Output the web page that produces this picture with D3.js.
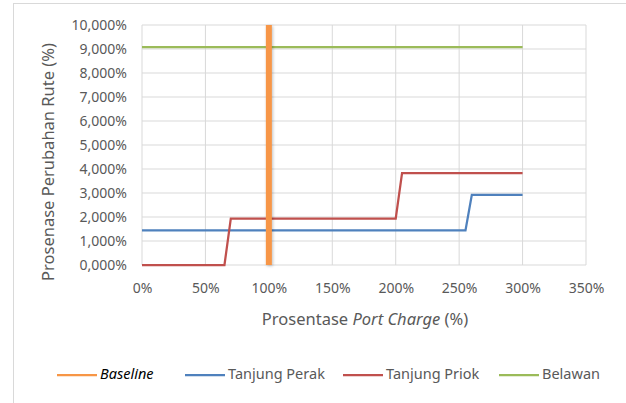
<!DOCTYPE html>
<html>
<head>
<meta charset="utf-8">
<script src="https://cdn.jsdelivr.net/npm/d3@7"></script>
<style>
  body { margin: 0; background: #fff; }
  text { font-family: "Noto Sans", sans-serif; }
</style>
</head>
<body>
<svg width="626" height="403"></svg>
<script>
// series (x = port charge %, y = route change %)
var xTicks = [0, 50, 100, 150, 200, 250, 300, 350];
var yTicks = [0, 1, 2, 3, 4, 5, 6, 7, 8, 9, 10];
var baseline = [[100, 0], [100, 10]];
var tanjungPerak = [[0, 1.44], [255, 1.44], [260, 2.92], [300, 2.92]];
var tanjungPriok = [[0, 0], [65, 0], [70, 1.93], [200, 1.93], [205, 3.83], [300, 3.83]];
var belawan = [[0, 9.08], [300, 9.08]];

var series = [
  {name: "Baseline", data: baseline, color: "#f79646", width: 6, italic: true},
  {name: "Tanjung Perak", data: tanjungPerak, color: "#4f81bd", width: 2.25},
  {name: "Tanjung Priok", data: tanjungPriok, color: "#c0504d", width: 2.25},
  {name: "Belawan", data: belawan, color: "#9bbb59", width: 2.25}
];

var svg = d3.select("svg");

// outer chart frame
svg.append("line").attr("x1", 13).attr("x2", 626).attr("y1", 3.5).attr("y2", 3.5)
   .attr("stroke", "#d9d9d9");
svg.append("line").attr("x1", 13.5).attr("x2", 13.5).attr("y1", 3).attr("y2", 403)
   .attr("stroke", "#d9d9d9");

var x = d3.scaleLinear().domain([0, 350]).range([142, 586]);
var y = d3.scaleLinear().domain([0, 10]).range([265, 25]);

function yLabel(d){ return d + ",000%"; }

// grid
var grid = svg.append("g");
grid.selectAll(".gx").data(xTicks).enter().append("line")
    .attr("x1", function(d){ return x(d); }).attr("x2", function(d){ return x(d); })
    .attr("y1", y(0)).attr("y2", y(10))
    .attr("stroke", "#d9d9d9").attr("stroke-width", 1);
grid.selectAll(".gy").data(yTicks).enter().append("line")
    .attr("x1", x(0)).attr("x2", x(350))
    .attr("y1", function(d){ return y(d); }).attr("y2", function(d){ return y(d); })
    .attr("stroke", "#d9d9d9").attr("stroke-width", 1);

// axes (labels only, like excel)
var yAxis = svg.append("g").attr("transform", "translate(" + x(0) + ",0)")
   .call(d3.axisLeft(y).tickValues(yTicks).tickSize(0).tickPadding(15).tickFormat(yLabel));
yAxis.select(".domain").remove();
yAxis.selectAll("text").attr("fill", "#595959").style("font-size", "14px")
   .style("font-family", "'Noto Sans', sans-serif");

var xAxis = svg.append("g").attr("transform", "translate(0," + y(0) + ")")
   .call(d3.axisBottom(x).tickValues(xTicks).tickSize(0).tickPadding(18).tickFormat(function(d){ return d + "%"; }));
xAxis.select(".domain").remove();
xAxis.selectAll("text").attr("fill", "#595959").style("font-size", "14px")
   .style("font-family", "'Noto Sans', sans-serif");

// lines
var line = d3.line().x(function(d){ return x(d[0]); }).y(function(d){ return y(d[1]); });

var defs = svg.append("defs");
defs.append("filter").attr("id", "shadow").attr("filterUnits", "userSpaceOnUse")
  .attr("x", 0).attr("y", 0).attr("width", 626).attr("height", 403)
  .append("feDropShadow").attr("dx", 1).attr("dy", 1).attr("stdDeviation", 1.5)
  .attr("flood-color", "#000").attr("flood-opacity", 0.25);

svg.selectAll(".series").data(series.slice(1).concat([series[0]])).enter().append("path")
   .attr("d", function(d){ return line(d.data); })
   .attr("fill", "none")
   .attr("stroke", function(d){ return d.color; })
   .attr("stroke-width", function(d){ return d.width; })
   .attr("filter", function(d){ return d.italic ? "url(#shadow)" : null; });

// axis titles
svg.append("text").attr("transform", "translate(50,162) rotate(-90)")
   .attr("text-anchor", "middle").attr("dominant-baseline", "middle")
   .attr("fill", "#595959").style("font-size", "16.5px")
   .text("Prosenase Perubahan Rute (%)");

var xt = svg.append("text").attr("x", 365).attr("y", 321)
   .attr("text-anchor", "middle").attr("dominant-baseline", "middle")
   .attr("fill", "#595959").style("font-size", "16.5px");
xt.append("tspan").text("Prosentase ");
xt.append("tspan").attr("font-style", "italic").text("Port Charge");
xt.append("tspan").text(" (%)");

// legend
var legendX = [57, 185, 343, 499];
var lg = svg.selectAll(".lg").data(series).enter().append("g")
   .attr("transform", function(d, i){ return "translate(" + legendX[i] + ",375)"; });
lg.append("line").attr("x1", 0).attr("x2", 40).attr("y1", 0).attr("y2", 0)
   .attr("stroke", function(d){ return d.color; }).attr("stroke-width", 2.25);
lg.append("text").attr("x", 43).attr("y", 0).attr("dominant-baseline", "middle")
   .attr("fill", function(d){ return d.italic ? "#000" : "#595959"; })
   .attr("font-style", function(d){ return d.italic ? "italic" : "normal"; })
   .style("font-size", "14.5px")
   .text(function(d){ return d.name; });
</script>
</body>
</html>
